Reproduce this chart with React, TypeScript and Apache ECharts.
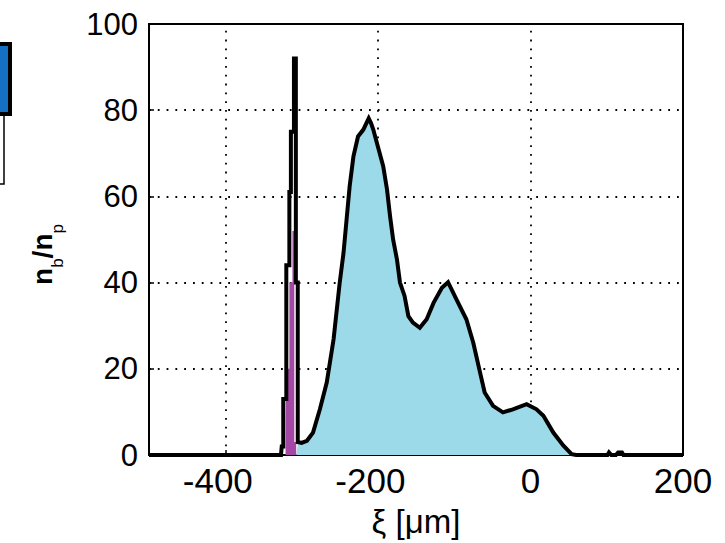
import React, { useEffect, useRef } from "react";
import * as echarts from "echarts";

// Black outline (total): ξ [µm] and n_b/n_p
const xiTotal = [
  -500, -327, -326, -324, -324, -320, -320, -316, -316, -314, -314, -310, -310, -307.5, -307.5, -305, -305,
  -300, -293, -285, -276, -267, -258, -250, -245, -241, -237, -232, -226, -219, -215, -212, -209, -206,
  -200, -193, -188, -184, -180, -175, -171, -165, -160, -154, -145, -136, -127, -116, -108, -97, -84,
  -75, -66, -60, -49, -36, -23, -5, 8, 17, 30, 43, 54, 60, 101, 103, 106, 112, 115, 120, 122, 200,
];
const nTotal = [
  0, 0, 2, 2, 13, 13, 44, 44, 61, 61, 75, 75, 92, 92, 40, 40, 3,
  2.8, 3.3, 5.2, 10.6, 16.8, 26.9, 40, 46.9, 54.6, 62.3, 69.3, 73.9, 75.5, 77, 78.1, 77, 75.5,
  71.6, 67, 61.6, 55.4, 50, 45.4, 40, 36.9, 32.2, 30.7, 29.5, 31.5, 35.3, 38.8, 40.1, 36.1, 31.5,
  26.1, 19.1, 14.5, 11.4, 9.9, 10.6, 11.8, 10.6, 9.1, 5.2, 2.2, 0.2, 0, 0, 0.6, 0, 0, 0.6, 0.6, 0, 0,
];

// Blue-filled distribution
const xiBlue = [
  -307, -305, -300, -293, -285, -276, -267, -258, -250, -245, -241, -237, -232, -226, -219, -215, -212, -209, -206,
  -200, -193, -188, -184, -180, -175, -171, -165, -160, -154, -145, -136, -127, -116, -108, -97, -84,
  -75, -66, -60, -49, -36, -23, -5, 8, 17, 30, 43, 54, 60,
];
const nBlue = [
  0, 2.5, 2.8, 3.3, 5.2, 10.6, 16.8, 26.9, 40, 46.9, 54.6, 62.3, 69.3, 73.9, 75.5, 77, 78.1, 77, 75.5,
  71.6, 67, 61.6, 55.4, 50, 45.4, 40, 36.9, 32.2, 30.7, 29.5, 31.5, 35.3, 38.8, 40.1, 36.1, 31.5,
  26.1, 19.1, 14.5, 11.4, 9.9, 10.6, 11.8, 10.6, 9.1, 5.2, 2.2, 0.2, 0,
];

// Purple-filled distribution
const xiPurple = [-321, -320.5, -316, -316, -312, -312, -309.5, -309.5, -307, -307];
const nPurple = [0, 20, 20, 40, 40, 52, 52, 3, 3, 0];

const xTicks = [-400, -200, 0, 200];
const yTicks = [0, 20, 40, 60, 80, 100];
const xGrid = [-400, -200, 0];
const yGrid = [20, 40, 60, 80];

const zip = (xs: number[], ys: number[]) => xs.map((x, i) => [x, ys[i]]);

const FONT = "Liberation Sans, Arial, sans-serif";

export default function App() {
  const ref = useRef<HTMLDivElement>(null);
  useEffect(() => {
    if (!ref.current) return;
    const chart = echarts.init(ref.current, undefined, { renderer: "svg" });
    const dotted = { color: "#000", width: 1.8, type: [1.8, 7] as any };
    chart.setOption({
      animation: false,
      backgroundColor: "#fff",
      textStyle: { fontFamily: FONT },
      grid: {
        left: 149,
        right: 42,
        top: 24,
        bottom: 86,
        show: true,
        borderColor: "#000",
        borderWidth: 2,
        backgroundColor: "transparent",
      },
      xAxis: {
        type: "value",
        min: -500,
        max: 200,
        name: "ξ [μm]",
        nameLocation: "middle",
        nameGap: 50,
        nameTextStyle: { fontSize: 33, color: "#000", fontFamily: FONT },
        axisLine: { show: true, onZero: false, lineStyle: { color: "#000", width: 2 } },
        axisTick: { show: true, inside: true, length: 5, customValues: xTicks, lineStyle: { color: "#000", width: 1.5 } },
        axisLabel: {
          customValues: xTicks,
          fontSize: 35,
          color: "#000",
          margin: 8,
          fontFamily: FONT,
          formatter: (v: number) => (v < 0 ? `{neg|${v}}` : `${v}`),
          rich: { neg: { fontSize: 35, color: "#000", fontFamily: FONT, padding: [0, 15, 0, 0] } },
        },
        splitLine: { show: false },
      },
      yAxis: {
        type: "value",
        min: 0,
        max: 100,
        interval: 20,
        name: "{n|n}{s|b}{n|/n}{s|p}",
        nameLocation: "middle",
        nameGap: 92,
        nameRotate: 90,
        nameTextStyle: {
          color: "#000",
          padding: [0, 30, 0, 0],
          rich: {
            n: { fontSize: 28, fontWeight: "bold", color: "#000", lineHeight: 29, verticalAlign: "top", fontFamily: FONT },
            s: { fontSize: 17, color: "#000", lineHeight: 17, padding: [21, 0, 0, 0], verticalAlign: "top", fontFamily: FONT },
          },
        },
        axisLine: { show: true, onZero: false, lineStyle: { color: "#000", width: 2 } },
        axisTick: { show: true, inside: true, length: 5, lineStyle: { color: "#000", width: 1.5 } },
        axisLabel: { fontSize: 31, color: "#000", margin: 11, fontFamily: FONT, customValues: yTicks },
        splitLine: { show: false },
      },
      graphic: [
        { type: "rect", shape: { x: -10, y: 115, width: 14, height: 69 }, style: { fill: "#fff", stroke: "#000", lineWidth: 1.5 } },
        { type: "rect", shape: { x: -10, y: 44, width: 20, height: 70 }, style: { fill: "#1470c4", stroke: "#000", lineWidth: 4 } },
      ],
      series: [
        {
          type: "line",
          data: zip(xiPurple, nPurple),
          symbol: "none",
          lineStyle: { width: 0 },
          areaStyle: { color: "#a548a5", opacity: 1 },
          z: 2,
        },
        {
          type: "line",
          data: zip(xiBlue, nBlue),
          symbol: "none",
          lineStyle: { width: 0 },
          areaStyle: { color: "#9cd9e9", opacity: 1 },
          z: 2,
        },
        {
          type: "line",
          data: zip(xiTotal, nTotal),
          symbol: "none",
          lineStyle: { color: "#000", width: 4, join: "miter" },
          z: 3,
          markLine: {
            silent: true,
            symbol: "none",
            animation: false,
            label: { show: false },
            lineStyle: dotted,
            emphasis: { disabled: true },
            z: 1,
            data: [...xGrid.map((v) => ({ xAxis: v })), ...yGrid.map((v) => ({ yAxis: v }))],
          },
        },
      ],
    });
    return () => chart.dispose();
  }, []);
  return <div ref={ref} style={{ position: "fixed", left: 0, top: 0, width: 725, height: 543 }} />;
}
